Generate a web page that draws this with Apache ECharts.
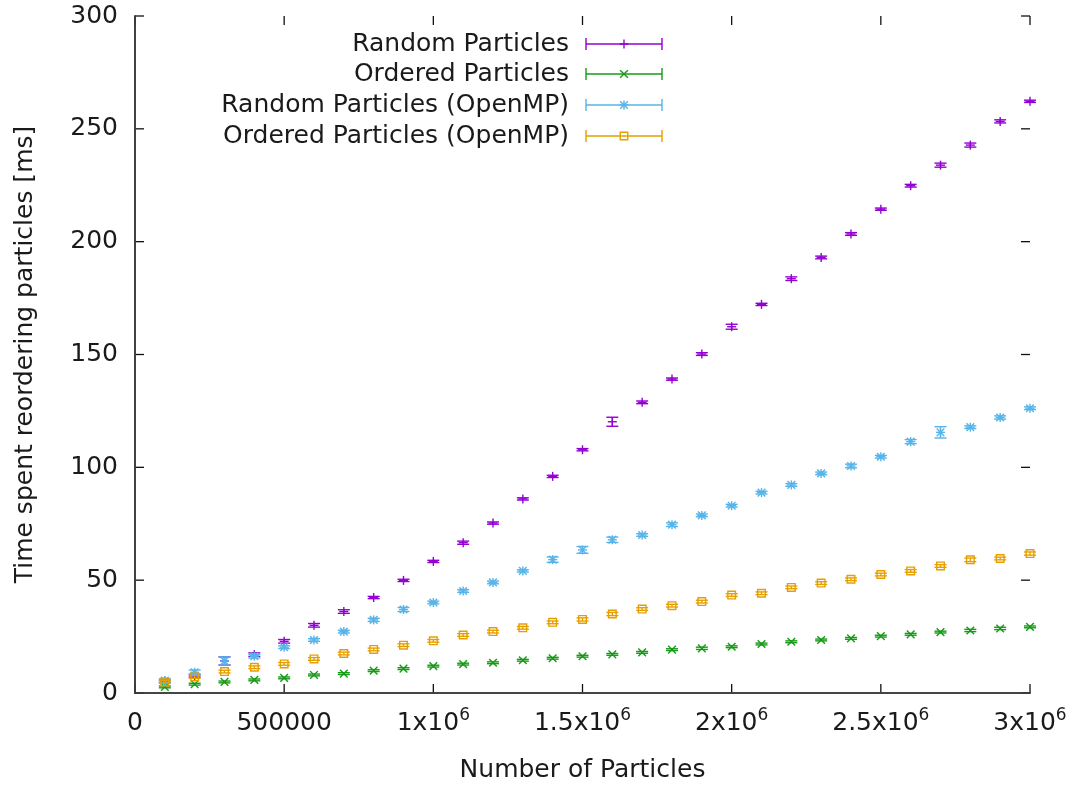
<!DOCTYPE html>
<html>
<head>
<meta charset="utf-8">
<title>Particle reordering time</title>
<script src="https://cdn.jsdelivr.net/npm/echarts@6/dist/echarts.min.js"></script>
<style>
  html, body { margin: 0; padding: 0; background: #fff; }
  #chart { width: 1083px; height: 789px; }
</style>
</head>
<body>
<div id="chart"></div>
<script>
// Number of particles per run
const particles = [
  100000, 200000, 300000, 400000, 500000, 600000, 700000, 800000, 900000, 1000000,
  1100000, 1200000, 1300000, 1400000, 1500000, 1600000, 1700000, 1800000, 1900000, 2000000,
  2100000, 2200000, 2300000, 2400000, 2500000, 2600000, 2700000, 2800000, 2900000, 3000000
];

// Mean reordering time [ms] and its error for each configuration
const randomMean = [5.2, 7.7, 14.2, 17.0, 22.9, 30.0, 36.1, 42.3, 49.9, 58.3, 66.6, 75.3, 86.0, 96.0, 107.8, 120.2, 128.8, 139.1, 150.2, 162.3, 172.2, 183.6, 193.0, 203.4, 214.4, 224.8, 233.9, 242.8, 253.3, 262.2];
const randomErr  = [0.5, 0.6, 1.8, 0.8, 0.8, 0.8, 0.8, 0.5, 0.5, 0.5, 0.7, 0.5, 0.5, 0.5, 0.5, 2.0, 0.6, 0.5, 0.6, 1.1, 0.5, 0.8, 0.6, 0.6, 0.5, 0.6, 0.9, 0.9, 0.7, 0.5];

const orderedMean = [2.7, 3.9, 4.9, 5.8, 6.7, 8.0, 8.6, 9.9, 10.8, 11.9, 12.8, 13.4, 14.5, 15.4, 16.3, 17.1, 18.0, 19.2, 19.8, 20.5, 21.7, 22.7, 23.5, 24.2, 25.2, 26.0, 27.0, 27.7, 28.6, 29.3];
const orderedErr  = [0.4, 0.4, 0.4, 0.4, 0.4, 0.4, 0.4, 0.4, 0.4, 0.4, 0.4, 0.4, 0.4, 0.4, 0.4, 0.4, 0.4, 0.4, 0.5, 0.4, 0.4, 0.4, 0.4, 0.4, 0.4, 0.4, 0.4, 0.5, 0.5, 0.4];

const randomOmpMean = [5.5, 9.2, 14.2, 16.3, 20.3, 23.5, 27.2, 32.4, 37.0, 40.1, 45.2, 49.0, 54.1, 59.1, 63.4, 67.9, 70.0, 74.6, 78.7, 83.0, 88.8, 92.2, 97.3, 100.6, 104.7, 111.4, 115.5, 117.8, 122.1, 126.2];
const randomOmpErr  = [0.8, 1.0, 1.8, 0.8, 0.6, 0.6, 0.6, 0.7, 0.9, 0.6, 0.6, 0.6, 0.5, 1.2, 1.5, 1.2, 0.6, 0.8, 0.6, 0.6, 0.6, 0.6, 0.6, 0.8, 0.6, 0.9, 2.5, 0.6, 0.7, 0.6];

const orderedOmpMean = [4.9, 7.1, 9.5, 11.4, 12.9, 15.1, 17.5, 19.3, 21.2, 23.1, 25.7, 27.2, 28.9, 31.3, 32.6, 35.0, 37.2, 38.7, 40.5, 43.4, 44.2, 46.8, 48.7, 50.4, 52.5, 54.1, 56.3, 59.0, 59.6, 61.8];
const orderedOmpErr  = [0.6, 0.6, 0.6, 0.6, 0.6, 0.6, 0.6, 0.6, 0.6, 0.6, 0.6, 0.6, 0.6, 0.6, 0.7, 0.7, 0.6, 0.6, 0.6, 0.6, 0.6, 0.6, 0.6, 0.6, 0.6, 0.6, 0.6, 0.8, 0.6, 0.7];

// Axis ticks and their labels
const xTickValues = [0, 500000, 1000000, 1500000, 2000000, 2500000, 3000000];
const xTickLabels = ['0', '500000', '1x10^6', '1.5x10^6', '2x10^6', '2.5x10^6', '3x10^6'];
const yTickValues = [0, 50, 100, 150, 200, 250, 300];
const yTickLabels = ['0', '50', '100', '150', '200', '250', '300'];

const seriesDefs = [
  { name: 'Random Particles', mean: randomMean, err: randomErr, color: '#9400d3', marker: 'plus' },
  { name: 'Ordered Particles', mean: orderedMean, err: orderedErr, color: '#179a17', marker: 'cross' },
  { name: 'Random Particles (OpenMP)', mean: randomOmpMean, err: randomOmpErr, color: '#56b4e9', marker: 'star' },
  { name: 'Ordered Particles (OpenMP)', mean: orderedOmpMean, err: orderedOmpErr, color: '#e69f00', marker: 'square' }
];

const FONT = '"DejaVu Sans", Verdana, sans-serif';
const FS = 25;
const LW = 1.4;
const TEXT = '#1a1a1a';

function seg(x1, y1, x2, y2, color, width) {
  return { type: 'line', shape: { x1, y1, x2, y2 }, style: { stroke: color, lineWidth: width || LW } };
}

// Point glyphs in the style of gnuplot point types 1-4
function markerShapes(kind, cx, cy, color) {
  const m = 4.5;
  const out = [];
  if (kind === 'plus' || kind === 'star') {
    out.push(seg(cx - m, cy, cx + m, cy, color), seg(cx, cy - m, cx, cy + m, color));
  }
  if (kind === 'cross' || kind === 'star') {
    const d = m * 0.85;
    out.push(seg(cx - d, cy - d, cx + d, cy + d, color), seg(cx - d, cy + d, cx + d, cy - d, color));
  }
  if (kind === 'square') {
    out.push({ type: 'rect', shape: { x: cx - 3.8, y: cy - 3.8, width: 7.6, height: 7.6 },
      style: { stroke: color, fill: null, lineWidth: LW } });
  }
  return out;
}

// Error bar with caps plus the point glyph
function makeRenderer(def) {
  return function (params, api) {
    const x = api.value(0), y = api.value(1), e = api.value(2);
    const c = api.coord([x, y]);
    const lo = api.coord([x, y - e]);
    const hi = api.coord([x, y + e]);
    const cap = 6;
    const children = [
      seg(c[0], lo[1], c[0], hi[1], def.color),
      seg(c[0] - cap, lo[1], c[0] + cap, lo[1], def.color),
      seg(c[0] - cap, hi[1], c[0] + cap, hi[1], def.color)
    ].concat(markerShapes(def.marker, c[0], c[1], def.color));
    return { type: 'group', children };
  };
}

const series = seriesDefs.map(def => ({
  name: def.name,
  type: 'custom',
  xAxisIndex: 0,
  yAxisIndex: 0,
  renderItem: makeRenderer(def),
  encode: { x: 0, y: 1 },
  data: particles.map((p, i) => [p, def.mean[i], def.err[i]]),
  clip: false,
  silent: true
}));

// Key in the upper-left of the plot
const legendGraphics = [];
const keyTextRight = 569, keyX1 = 586, keyX2 = 662, keyRows = [44, 74, 105, 136];
seriesDefs.forEach((def, i) => {
  const y = keyRows[i];
  const mid = (keyX1 + keyX2) / 2;
  legendGraphics.push({
    type: 'text', x: keyTextRight, y: y,
    style: { text: def.name, font: FS + 'px ' + FONT, fill: TEXT, align: 'right', verticalAlign: 'middle' }
  });
  legendGraphics.push({
    type: 'group',
    children: [
      seg(keyX1, y, keyX2, y, def.color),
      seg(keyX1, y - 6, keyX1, y + 6, def.color),
      seg(keyX2, y - 6, keyX2, y + 6, def.color)
    ].concat(markerShapes(def.marker, mid, y, def.color))
  });
});

function xLabel(v) {
  const idx = xTickValues.indexOf(v);
  const t = xTickLabels[idx];
  if (t === undefined) return '';
  const p = t.indexOf('^');
  if (p < 0) return '{n|' + t + '}';
  return '{n|' + t.slice(0, p) + '}{s|' + t.slice(p + 1) + '}';
}

function borderLine() {
  return { show: true, lineStyle: { color: '#3a3a3a', width: 1.6 } };
}

const option = {
  backgroundColor: '#ffffff',
  animation: false,
  grid: { left: 135, right: 53, top: 16, bottom: 96, containLabel: false },
  xAxis: [
    {
      type: 'value', min: 0, max: 3000000, interval: 500000, position: 'bottom',
      name: 'Number of Particles', nameLocation: 'middle', nameGap: 65,
      nameTextStyle: { fontFamily: FONT, fontSize: FS, color: TEXT },
      axisLine: borderLine(),
      axisTick: { show: false },
      splitLine: { show: false },
      axisLabel: {
        margin: 16,
        formatter: xLabel,
        rich: {
          n: { fontFamily: FONT, fontSize: FS, color: TEXT, lineHeight: 28 },
          s: { fontFamily: FONT, fontSize: 17, color: TEXT, lineHeight: 28, padding: [0, 0, 14, 0] }
        }
      }
    },
    {
      type: 'value', min: 0, max: 3000000, interval: 500000, position: 'top',
      axisLine: borderLine(),
      axisTick: { show: false }, axisLabel: { show: false }, splitLine: { show: false }
    }
  ],
  yAxis: [
    {
      type: 'value', min: 0, max: 300, interval: 50, position: 'left',
      name: 'Time spent reordering particles [ms]', nameLocation: 'middle', nameGap: 97,
      nameRotate: 90,
      nameTextStyle: { fontFamily: FONT, fontSize: FS, color: TEXT },
      axisLine: borderLine(),
      axisTick: { show: false },
      splitLine: { show: false },
      axisLabel: {
        margin: 17, fontFamily: FONT, fontSize: FS, color: TEXT,
        formatter: v => yTickLabels[yTickValues.indexOf(v)] || ''
      }
    },
    {
      type: 'value', min: 0, max: 300, interval: 50, position: 'right',
      axisLine: borderLine(),
      axisTick: { show: false }, axisLabel: { show: false }, splitLine: { show: false }
    }
  ],
  series: series
};

const chart = echarts.init(document.getElementById('chart'), null, { renderer: 'canvas' });
chart.setOption(option);

// Inward tick marks on all four sides, placed through the axes' own scales
const TICK = 9, TICK_COLOR = '#111';
const tickGraphics = [];
const yBottom = chart.convertToPixel({ yAxisIndex: 0 }, 0);
const yTop = chart.convertToPixel({ yAxisIndex: 0 }, 300);
const xLeft = chart.convertToPixel({ xAxisIndex: 0 }, 0);
const xRight = chart.convertToPixel({ xAxisIndex: 0 }, 3000000);
xTickValues.forEach(v => {
  const px = chart.convertToPixel({ xAxisIndex: 0 }, v);
  tickGraphics.push(seg(px, yBottom, px, yBottom - TICK, TICK_COLOR, 1.3));
  tickGraphics.push(seg(px, yTop, px, yTop + TICK, TICK_COLOR, 1.3));
});
yTickValues.forEach(v => {
  const py = chart.convertToPixel({ yAxisIndex: 0 }, v);
  tickGraphics.push(seg(xLeft, py, xLeft + TICK, py, TICK_COLOR, 1.3));
  tickGraphics.push(seg(xRight, py, xRight - TICK, py, TICK_COLOR, 1.3));
});

chart.setOption({ graphic: { elements: legendGraphics.concat(tickGraphics) } });
</script>
</body>
</html>
